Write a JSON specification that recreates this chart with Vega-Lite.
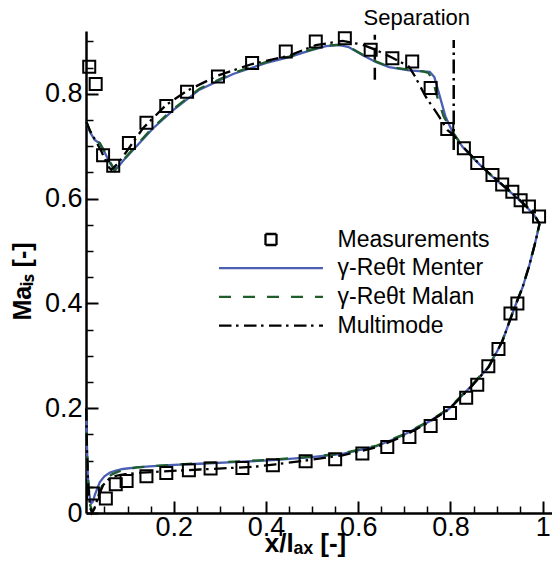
{
  "$schema": "https://vega.github.io/schema/vega-lite/v6.json",
  "autosize": {"type": "none"},
  "padding": {"left": 86, "top": 31, "right": 0, "bottom": 57},
  "width": 466,
  "height": 482,
  "background": "white",
  "config": {"view": {"stroke": null}, "font": "Liberation Sans"},
  "datasets": {
    "meas": [
      {"m":"Measurements","x":0.017,"y":0.852},{"m":"Measurements","x":0.031,"y":0.819},{"m":"Measurements","x":0.047,"y":0.683},{"m":"Measurements","x":0.069,"y":0.663},{"m":"Measurements","x":0.103,"y":0.706},{"m":"Measurements","x":0.141,"y":0.745},{"m":"Measurements","x":0.184,"y":0.777},{"m":"Measurements","x":0.229,"y":0.804},{"m":"Measurements","x":0.296,"y":0.833},{"m":"Measurements","x":0.370,"y":0.859},{"m":"Measurements","x":0.443,"y":0.881},{"m":"Measurements","x":0.508,"y":0.900},{"m":"Measurements","x":0.571,"y":0.906},{"m":"Measurements","x":0.627,"y":0.884},{"m":"Measurements","x":0.674,"y":0.868},{"m":"Measurements","x":0.717,"y":0.862},{"m":"Measurements","x":0.757,"y":0.811},{"m":"Measurements","x":0.793,"y":0.733},{"m":"Measurements","x":0.829,"y":0.696},{"m":"Measurements","x":0.858,"y":0.668},{"m":"Measurements","x":0.891,"y":0.645},{"m":"Measurements","x":0.912,"y":0.627},{"m":"Measurements","x":0.934,"y":0.613},{"m":"Measurements","x":0.952,"y":0.597},{"m":"Measurements","x":0.970,"y":0.585},{"m":"Measurements","x":0.992,"y":0.566},
      {"m":"Measurements","x":0.025,"y":0.037},{"m":"Measurements","x":0.053,"y":0.0275},{"m":"Measurements","x":0.0745,"y":0.055},{"m":"Measurements","x":0.098,"y":0.061},{"m":"Measurements","x":0.141,"y":0.070},{"m":"Measurements","x":0.184,"y":0.0765},{"m":"Measurements","x":0.233,"y":0.0816},{"m":"Measurements","x":0.280,"y":0.085},{"m":"Measurements","x":0.349,"y":0.086},{"m":"Measurements","x":0.415,"y":0.091},{"m":"Measurements","x":0.486,"y":0.0988},{"m":"Measurements","x":0.550,"y":0.1026},{"m":"Measurements","x":0.609,"y":0.1134},{"m":"Measurements","x":0.663,"y":0.126},{"m":"Measurements","x":0.711,"y":0.145},{"m":"Measurements","x":0.757,"y":0.166},{"m":"Measurements","x":0.799,"y":0.191},{"m":"Measurements","x":0.834,"y":0.220},{"m":"Measurements","x":0.858,"y":0.245},{"m":"Measurements","x":0.882,"y":0.280},{"m":"Measurements","x":0.904,"y":0.313},{"m":"Measurements","x":0.930,"y":0.381},{"m":"Measurements","x":0.945,"y":0.400}
    ],
    "curves": [
      {"m":"γ-Reθt Menter","s":"u","x":0.0105,"y":0.747},{"m":"γ-Reθt Menter","s":"u","x":0.020,"y":0.725},{"m":"γ-Reθt Menter","s":"u","x":0.029,"y":0.712},{"m":"γ-Reθt Menter","s":"u","x":0.040,"y":0.705},{"m":"γ-Reθt Menter","s":"u","x":0.051,"y":0.687},{"m":"γ-Reθt Menter","s":"u","x":0.062,"y":0.668},{"m":"γ-Reθt Menter","s":"u","x":0.072,"y":0.653},{"m":"γ-Reθt Menter","s":"u","x":0.090,"y":0.672},{"m":"γ-Reθt Menter","s":"u","x":0.112,"y":0.693},{"m":"γ-Reθt Menter","s":"u","x":0.155,"y":0.734},{"m":"γ-Reθt Menter","s":"u","x":0.199,"y":0.769},{"m":"γ-Reθt Menter","s":"u","x":0.256,"y":0.808},{"m":"γ-Reθt Menter","s":"u","x":0.329,"y":0.838},{"m":"γ-Reθt Menter","s":"u","x":0.401,"y":0.859},{"m":"γ-Reθt Menter","s":"u","x":0.450,"y":0.870},{"m":"γ-Reθt Menter","s":"u","x":0.493,"y":0.882},{"m":"γ-Reθt Menter","s":"u","x":0.530,"y":0.891},{"m":"γ-Reθt Menter","s":"u","x":0.560,"y":0.893},{"m":"γ-Reθt Menter","s":"u","x":0.580,"y":0.889},{"m":"γ-Reθt Menter","s":"u","x":0.609,"y":0.874},{"m":"γ-Reθt Menter","s":"u","x":0.638,"y":0.861},{"m":"γ-Reθt Menter","s":"u","x":0.667,"y":0.851},{"m":"γ-Reθt Menter","s":"u","x":0.710,"y":0.845},{"m":"γ-Reθt Menter","s":"u","x":0.740,"y":0.843},{"m":"γ-Reθt Menter","s":"u","x":0.755,"y":0.842},{"m":"γ-Reθt Menter","s":"u","x":0.765,"y":0.832},{"m":"γ-Reθt Menter","s":"u","x":0.775,"y":0.801},{"m":"γ-Reθt Menter","s":"u","x":0.789,"y":0.757},{"m":"γ-Reθt Menter","s":"u","x":0.804,"y":0.728},{"m":"γ-Reθt Menter","s":"u","x":0.826,"y":0.699},{"m":"γ-Reθt Menter","s":"u","x":0.855,"y":0.672},{"m":"γ-Reθt Menter","s":"u","x":0.883,"y":0.648},{"m":"γ-Reθt Menter","s":"u","x":0.912,"y":0.626},{"m":"γ-Reθt Menter","s":"u","x":0.941,"y":0.604},{"m":"γ-Reθt Menter","s":"u","x":0.965,"y":0.584},{"m":"γ-Reθt Menter","s":"u","x":0.981,"y":0.569},{"m":"γ-Reθt Menter","s":"u","x":0.993,"y":0.552},
      {"m":"γ-Reθt Menter","s":"l","x":0.0105,"y":0.200},{"m":"γ-Reθt Menter","s":"l","x":0.012,"y":0.130},{"m":"γ-Reθt Menter","s":"l","x":0.014,"y":0.070},{"m":"γ-Reθt Menter","s":"l","x":0.017,"y":0.035},{"m":"γ-Reθt Menter","s":"l","x":0.021,"y":0.018},{"m":"γ-Reθt Menter","s":"l","x":0.025,"y":0.022},{"m":"γ-Reθt Menter","s":"l","x":0.029,"y":0.034},{"m":"γ-Reθt Menter","s":"l","x":0.035,"y":0.048},{"m":"γ-Reθt Menter","s":"l","x":0.040,"y":0.059},{"m":"γ-Reθt Menter","s":"l","x":0.050,"y":0.070},{"m":"γ-Reθt Menter","s":"l","x":0.062,"y":0.077},{"m":"γ-Reθt Menter","s":"l","x":0.075,"y":0.081},{"m":"γ-Reθt Menter","s":"l","x":0.090,"y":0.084},{"m":"γ-Reθt Menter","s":"l","x":0.120,"y":0.087},{"m":"γ-Reθt Menter","s":"l","x":0.148,"y":0.089},{"m":"γ-Reθt Menter","s":"l","x":0.200,"y":0.092},{"m":"γ-Reθt Menter","s":"l","x":0.256,"y":0.094},{"m":"γ-Reθt Menter","s":"l","x":0.330,"y":0.097},{"m":"γ-Reθt Menter","s":"l","x":0.415,"y":0.101},{"m":"γ-Reθt Menter","s":"l","x":0.493,"y":0.106},{"m":"γ-Reθt Menter","s":"l","x":0.566,"y":0.113},{"m":"γ-Reθt Menter","s":"l","x":0.638,"y":0.127},{"m":"γ-Reθt Menter","s":"l","x":0.696,"y":0.148},{"m":"γ-Reθt Menter","s":"l","x":0.753,"y":0.174},{"m":"γ-Reθt Menter","s":"l","x":0.797,"y":0.199},{"m":"γ-Reθt Menter","s":"l","x":0.847,"y":0.244},{"m":"γ-Reθt Menter","s":"l","x":0.883,"y":0.279},{"m":"γ-Reθt Menter","s":"l","x":0.912,"y":0.327},{"m":"γ-Reθt Menter","s":"l","x":0.941,"y":0.397},{"m":"γ-Reθt Menter","s":"l","x":0.956,"y":0.430},{"m":"γ-Reθt Menter","s":"l","x":0.970,"y":0.470},{"m":"γ-Reθt Menter","s":"l","x":0.982,"y":0.510},{"m":"γ-Reθt Menter","s":"l","x":0.990,"y":0.540},{"m":"γ-Reθt Menter","s":"l","x":0.993,"y":0.552},
      {"m":"γ-Reθt Malan","s":"u","x":0.0105,"y":0.747},{"m":"γ-Reθt Malan","s":"u","x":0.020,"y":0.726},{"m":"γ-Reθt Malan","s":"u","x":0.029,"y":0.713},{"m":"γ-Reθt Malan","s":"u","x":0.040,"y":0.706},{"m":"γ-Reθt Malan","s":"u","x":0.051,"y":0.689},{"m":"γ-Reθt Malan","s":"u","x":0.062,"y":0.670},{"m":"γ-Reθt Malan","s":"u","x":0.072,"y":0.655},{"m":"γ-Reθt Malan","s":"u","x":0.090,"y":0.673},{"m":"γ-Reθt Malan","s":"u","x":0.112,"y":0.695},{"m":"γ-Reθt Malan","s":"u","x":0.155,"y":0.736},{"m":"γ-Reθt Malan","s":"u","x":0.199,"y":0.771},{"m":"γ-Reθt Malan","s":"u","x":0.256,"y":0.810},{"m":"γ-Reθt Malan","s":"u","x":0.329,"y":0.840},{"m":"γ-Reθt Malan","s":"u","x":0.401,"y":0.861},{"m":"γ-Reθt Malan","s":"u","x":0.450,"y":0.871},{"m":"γ-Reθt Malan","s":"u","x":0.493,"y":0.883},{"m":"γ-Reθt Malan","s":"u","x":0.530,"y":0.892},{"m":"γ-Reθt Malan","s":"u","x":0.560,"y":0.894},{"m":"γ-Reθt Malan","s":"u","x":0.580,"y":0.890},{"m":"γ-Reθt Malan","s":"u","x":0.609,"y":0.875},{"m":"γ-Reθt Malan","s":"u","x":0.638,"y":0.862},{"m":"γ-Reθt Malan","s":"u","x":0.667,"y":0.852},{"m":"γ-Reθt Malan","s":"u","x":0.710,"y":0.846},{"m":"γ-Reθt Malan","s":"u","x":0.740,"y":0.843},{"m":"γ-Reθt Malan","s":"u","x":0.752,"y":0.840},{"m":"γ-Reθt Malan","s":"u","x":0.762,"y":0.826},{"m":"γ-Reθt Malan","s":"u","x":0.770,"y":0.798},{"m":"γ-Reθt Malan","s":"u","x":0.785,"y":0.757},{"m":"γ-Reθt Malan","s":"u","x":0.804,"y":0.728},{"m":"γ-Reθt Malan","s":"u","x":0.826,"y":0.700},{"m":"γ-Reθt Malan","s":"u","x":0.855,"y":0.673},{"m":"γ-Reθt Malan","s":"u","x":0.883,"y":0.649},{"m":"γ-Reθt Malan","s":"u","x":0.912,"y":0.627},{"m":"γ-Reθt Malan","s":"u","x":0.941,"y":0.605},{"m":"γ-Reθt Malan","s":"u","x":0.965,"y":0.585},{"m":"γ-Reθt Malan","s":"u","x":0.981,"y":0.570},{"m":"γ-Reθt Malan","s":"u","x":0.993,"y":0.552},
      {"m":"γ-Reθt Malan","s":"l","x":0.0105,"y":0.200},{"m":"γ-Reθt Malan","s":"l","x":0.012,"y":0.130},{"m":"γ-Reθt Malan","s":"l","x":0.015,"y":0.060},{"m":"γ-Reθt Malan","s":"l","x":0.019,"y":0.015},{"m":"γ-Reθt Malan","s":"l","x":0.024,"y":0.003},{"m":"γ-Reθt Malan","s":"l","x":0.029,"y":0.010},{"m":"γ-Reθt Malan","s":"l","x":0.034,"y":0.025},{"m":"γ-Reθt Malan","s":"l","x":0.040,"y":0.042},{"m":"γ-Reθt Malan","s":"l","x":0.047,"y":0.056},{"m":"γ-Reθt Malan","s":"l","x":0.055,"y":0.066},{"m":"γ-Reθt Malan","s":"l","x":0.065,"y":0.073},{"m":"γ-Reθt Malan","s":"l","x":0.080,"y":0.079},{"m":"γ-Reθt Malan","s":"l","x":0.090,"y":0.082},{"m":"γ-Reθt Malan","s":"l","x":0.120,"y":0.087},{"m":"γ-Reθt Malan","s":"l","x":0.148,"y":0.089},{"m":"γ-Reθt Malan","s":"l","x":0.200,"y":0.092},{"m":"γ-Reθt Malan","s":"l","x":0.256,"y":0.095},{"m":"γ-Reθt Malan","s":"l","x":0.330,"y":0.098},{"m":"γ-Reθt Malan","s":"l","x":0.415,"y":0.102},{"m":"γ-Reθt Malan","s":"l","x":0.493,"y":0.107},{"m":"γ-Reθt Malan","s":"l","x":0.566,"y":0.114},{"m":"γ-Reθt Malan","s":"l","x":0.638,"y":0.128},{"m":"γ-Reθt Malan","s":"l","x":0.696,"y":0.149},{"m":"γ-Reθt Malan","s":"l","x":0.753,"y":0.175},{"m":"γ-Reθt Malan","s":"l","x":0.797,"y":0.200},{"m":"γ-Reθt Malan","s":"l","x":0.847,"y":0.245},{"m":"γ-Reθt Malan","s":"l","x":0.883,"y":0.280},{"m":"γ-Reθt Malan","s":"l","x":0.912,"y":0.328},{"m":"γ-Reθt Malan","s":"l","x":0.941,"y":0.398},{"m":"γ-Reθt Malan","s":"l","x":0.956,"y":0.431},{"m":"γ-Reθt Malan","s":"l","x":0.970,"y":0.471},{"m":"γ-Reθt Malan","s":"l","x":0.982,"y":0.511},{"m":"γ-Reθt Malan","s":"l","x":0.990,"y":0.541},{"m":"γ-Reθt Malan","s":"l","x":0.993,"y":0.552},
      {"m":"Multimode","s":"u","x":0.0105,"y":0.747},{"m":"Multimode","s":"u","x":0.018,"y":0.731},{"m":"Multimode","s":"u","x":0.030,"y":0.712},{"m":"Multimode","s":"u","x":0.0435,"y":0.690},{"m":"Multimode","s":"u","x":0.058,"y":0.661},{"m":"Multimode","s":"u","x":0.065,"y":0.655},{"m":"Multimode","s":"u","x":0.080,"y":0.668},{"m":"Multimode","s":"u","x":0.098,"y":0.690},{"m":"Multimode","s":"u","x":0.134,"y":0.735},{"m":"Multimode","s":"u","x":0.184,"y":0.779},{"m":"Multimode","s":"u","x":0.229,"y":0.806},{"m":"Multimode","s":"u","x":0.296,"y":0.835},{"m":"Multimode","s":"u","x":0.370,"y":0.857},{"m":"Multimode","s":"u","x":0.450,"y":0.873},{"m":"Multimode","s":"u","x":0.508,"y":0.893},{"m":"Multimode","s":"u","x":0.566,"y":0.901},{"m":"Multimode","s":"u","x":0.609,"y":0.894},{"m":"Multimode","s":"u","x":0.638,"y":0.884},{"m":"Multimode","s":"u","x":0.674,"y":0.869},{"m":"Multimode","s":"u","x":0.710,"y":0.852},{"m":"Multimode","s":"u","x":0.722,"y":0.835},{"m":"Multimode","s":"u","x":0.746,"y":0.795},{"m":"Multimode","s":"u","x":0.775,"y":0.757},{"m":"Multimode","s":"u","x":0.793,"y":0.731},{"m":"Multimode","s":"u","x":0.806,"y":0.722},{"m":"Multimode","s":"u","x":0.826,"y":0.700},{"m":"Multimode","s":"u","x":0.855,"y":0.673},{"m":"Multimode","s":"u","x":0.883,"y":0.649},{"m":"Multimode","s":"u","x":0.912,"y":0.627},{"m":"Multimode","s":"u","x":0.941,"y":0.605},{"m":"Multimode","s":"u","x":0.965,"y":0.585},{"m":"Multimode","s":"u","x":0.981,"y":0.570},{"m":"Multimode","s":"u","x":0.993,"y":0.552},
      {"m":"Multimode","s":"l","x":0.0105,"y":0.200},{"m":"Multimode","s":"l","x":0.012,"y":0.120},{"m":"Multimode","s":"l","x":0.015,"y":0.050},{"m":"Multimode","s":"l","x":0.019,"y":0.010},{"m":"Multimode","s":"l","x":0.023,"y":0.000},{"m":"Multimode","s":"l","x":0.028,"y":0.008},{"m":"Multimode","s":"l","x":0.036,"y":0.030},{"m":"Multimode","s":"l","x":0.047,"y":0.053},{"m":"Multimode","s":"l","x":0.062,"y":0.067},{"m":"Multimode","s":"l","x":0.080,"y":0.072},{"m":"Multimode","s":"l","x":0.095,"y":0.074},{"m":"Multimode","s":"l","x":0.130,"y":0.077},{"m":"Multimode","s":"l","x":0.170,"y":0.079},{"m":"Multimode","s":"l","x":0.256,"y":0.083},{"m":"Multimode","s":"l","x":0.372,"y":0.088},{"m":"Multimode","s":"l","x":0.421,"y":0.093},{"m":"Multimode","s":"l","x":0.493,"y":0.101},{"m":"Multimode","s":"l","x":0.566,"y":0.110},{"m":"Multimode","s":"l","x":0.638,"y":0.125},{"m":"Multimode","s":"l","x":0.696,"y":0.146},{"m":"Multimode","s":"l","x":0.753,"y":0.173},{"m":"Multimode","s":"l","x":0.797,"y":0.198},{"m":"Multimode","s":"l","x":0.847,"y":0.243},{"m":"Multimode","s":"l","x":0.883,"y":0.279},{"m":"Multimode","s":"l","x":0.912,"y":0.327},{"m":"Multimode","s":"l","x":0.941,"y":0.397},{"m":"Multimode","s":"l","x":0.956,"y":0.430},{"m":"Multimode","s":"l","x":0.970,"y":0.470},{"m":"Multimode","s":"l","x":0.982,"y":0.510},{"m":"Multimode","s":"l","x":0.990,"y":0.540},{"m":"Multimode","s":"l","x":0.993,"y":0.552}
    ],
    "marks": [
      {"k":"laminar","x":0.636,"y":0.827,"y2":0.913},
      {"k":"multimode","x":0.807,"y":0.693,"y2":0.903}
    ],
    "labels": [
      {"t":"Separation","x":0.727,"y":0.932}
    ]
  },
  "layer": [
    {
      "data": {"name": "curves"},
      "transform": [{"filter": "datum.m === 'γ-Reθt Menter'"}],
      "mark": {"type": "line", "strokeWidth": 2.3, "strokeCap": "butt"},
      "encoding": {
        "x": {"field": "x", "type": "quantitative", "scale": {"domain": [0.01, 1.02], "nice": false, "zero": false}, "axis": null},
        "y": {"field": "y", "type": "quantitative", "scale": {"domain": [0, 0.92], "nice": false}, "axis": null},
        "detail": {"field": "s"},
        "color": {"field": "m", "type": "nominal", "scale": {"domain": ["Measurements", "γ-Reθt Menter", "γ-Reθt Malan", "Multimode"], "range": ["black", "#4a5fb4", "#1d5e2b", "black"]},
          "legend": {"orient": "none", "legendX": 132, "legendY": 197, "title": null, "padding": 0, "symbolSize": 121, "symbolStrokeWidth": 2.3, "symbolOffset": 41.5, "labelOffset": 55, "labelFontSize": 23, "labelFont": "Liberation Sans", "labelColor": "black", "rowPadding": 4.7, "labelLimit": 0,
            "encode": {"symbols": {"update": {"shape": {"signal": "datum.value === 'Measurements' ? 'square' : 'M-9.45,0H9.45'"}, "strokeDash": {"signal": "datum.value === 'Multimode' ? [12.5,4.5,2.5,5.5] : (datum.value === 'γ-Reθt Malan' ? [12,12] : [1,0])"}, "fill": {"value": "transparent"}, "strokeWidth": {"value": 2.3}}}}}}
      }
    },
    {
      "data": {"name": "curves"},
      "transform": [{"filter": "datum.m === 'γ-Reθt Malan'"}],
      "mark": {"type": "line", "strokeWidth": 2.3, "strokeDash": [12, 12], "strokeCap": "butt"},
      "encoding": {
        "x": {"field": "x", "type": "quantitative", "axis": null},
        "y": {"field": "y", "type": "quantitative", "axis": null},
        "detail": {"field": "s"},
        "color": {"field": "m", "type": "nominal"}
      }
    },
    {
      "data": {"name": "curves"},
      "transform": [{"filter": "datum.m === 'Multimode'"}],
      "mark": {"type": "line", "strokeWidth": 2.3, "strokeDash": [12.5, 4.5, 2.5, 5.5], "strokeCap": "butt"},
      "encoding": {
        "x": {"field": "x", "type": "quantitative", "axis": null},
        "y": {"field": "y", "type": "quantitative", "axis": null},
        "detail": {"field": "s"},
        "color": {"field": "m", "type": "nominal"}
      }
    },
    {
      "data": {"name": "meas"},
      "mark": {"type": "point", "shape": "square", "filled": false, "size": 144, "strokeWidth": 2, "opacity": 1},
      "encoding": {
        "x": {"field": "x", "type": "quantitative",
          "axis": {"orient": "bottom", "values": [0.2, 0.4, 0.6, 0.8, 1], "format": "~g", "grid": false, "tickSize": -12, "tickWidth": 2, "tickColor": "black", "domainColor": "black", "domainWidth": 2.5, "labelFontSize": 27, "labelFont": "Liberation Sans", "labelColor": "black", "labelPadding": 13, "labelFlush": false, "labelOverlap": false,
            "title": "x/lₐₓ [-]", "titleFontSize": 26, "titleFontWeight": "bold", "titleFont": "Liberation Sans", "titleColor": "black", "titleX": 219, "titleY": 38, "titleBaseline": "alphabetic", "titleAlign": "center"}},
        "y": {"field": "y", "type": "quantitative",
          "axis": {"orient": "left", "values": [0, 0.2, 0.4, 0.6, 0.8], "format": "~g", "grid": false, "tickSize": -12, "tickWidth": 2, "tickColor": "black", "domainColor": "black", "domainWidth": 2.5, "labelFontSize": 27, "labelFont": "Liberation Sans", "labelColor": "black", "labelPadding": 16, "labelFlush": false, "labelOverlap": false,
            "title": "Maᵢₛ [-]", "titleFontSize": 25, "titleFontWeight": "bold", "titleFont": "Liberation Sans", "titleColor": "black", "titleX": -64, "titleY": 250, "titleBaseline": "middle", "titleAlign": "center", "titleAngle": -90}},
        "color": {"field": "m", "type": "nominal"}
      }
    },
    {
      "data": {"name": "marks"},
      "transform": [{"filter": "datum.k === 'laminar'"}],
      "mark": {"type": "rule", "color": "black", "strokeWidth": 2.5, "strokeDash": [12, 8]},
      "encoding": {
        "x": {"field": "x", "type": "quantitative",
          "axis": {"orient": "bottom", "values": [0.05, 0.1, 0.15, 0.25, 0.3, 0.35, 0.45, 0.5, 0.55, 0.65, 0.7, 0.75, 0.85, 0.9, 0.95], "labels": false, "domain": false, "grid": false, "tickSize": -7, "tickWidth": 1.5, "tickColor": "black", "title": null}},
        "y": {"field": "y", "type": "quantitative",
          "axis": {"orient": "left", "values": [0.05, 0.1, 0.15, 0.25, 0.3, 0.35, 0.45, 0.5, 0.55, 0.65, 0.7, 0.75, 0.85, 0.9], "labels": false, "domain": false, "grid": false, "tickSize": -7, "tickWidth": 1.5, "tickColor": "black", "title": null}},
        "y2": {"field": "y2"}
      }
    },
    {
      "data": {"name": "marks"},
      "transform": [{"filter": "datum.k === 'multimode'"}],
      "mark": {"type": "rule", "color": "black", "strokeWidth": 2.5, "strokeDash": [14, 4.5, 2.5, 4.5]},
      "encoding": {
        "x": {"field": "x", "type": "quantitative", "axis": null},
        "y": {"field": "y", "type": "quantitative", "axis": null},
        "y2": {"field": "y2"}
      }
    },
    {
      "data": {"name": "labels"},
      "mark": {"type": "text", "font": "Liberation Sans", "fontSize": 22, "align": "center", "baseline": "alphabetic", "color": "black"},
      "encoding": {
        "x": {"field": "x", "type": "quantitative", "axis": null},
        "y": {"field": "y", "type": "quantitative", "axis": null},
        "text": {"field": "t"}
      }
    }
  ],
  "resolve": {"axis": {"x": "independent", "y": "independent"}}
}
